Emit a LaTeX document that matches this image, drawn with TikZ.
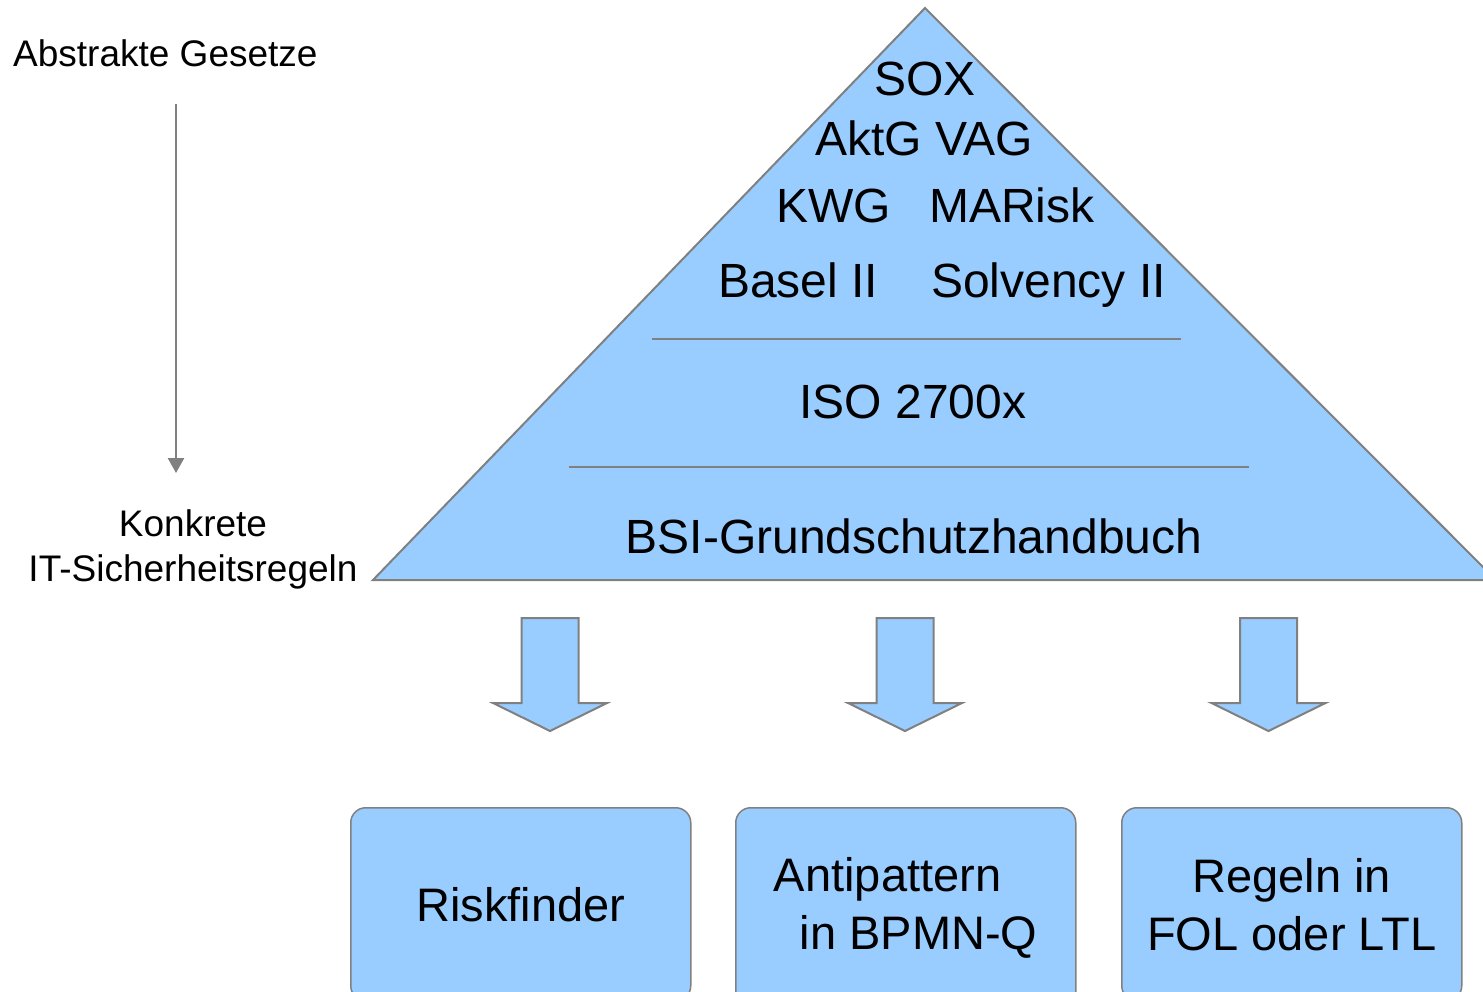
\documentclass[tikz,border=0pt]{standalone}
\usepackage{fontspec}
\setmainfont{Liberation Sans}
\usetikzlibrary{arrows.meta}
\definecolor{boxblue}{HTML}{99CCFF}
\definecolor{edgegray}{HTML}{808080}
\begin{document}
\begin{tikzpicture}[x=1pt,y=-1pt,
  big/.style={inner sep=0pt, font=\fontsize{48}{56}\selectfont},
  mid/.style={inner sep=0pt, font=\fontsize{37}{45}\selectfont},
  box/.style={draw=edgegray, line width=1.5pt, fill=boxblue, rounded corners=15pt,
    inner sep=0pt, font=\fontsize{47}{58}\selectfont, anchor=north west,
    minimum width=340pt, minimum height=193pt},
  arrowbox/.style={draw=edgegray, line width=2pt, fill=boxblue, line join=miter},
  sepline/.style={draw=edgegray, line width=1.5pt},
  thinarrow/.style={draw=edgegray, line width=2.5pt, -{Triangle[width=16pt,length=15pt]}}]
\useasboundingbox (0,0) rectangle (1483,991);
\clip (0,0) rectangle (1483,991);
\fill[white] (0,0) rectangle (1483,991);

% pyramid
\coordinate (apex) at (925,8);
\coordinate (baseL) at (373,580);
\coordinate (baseR) at (1496,580);
\draw[arrowbox] (apex) -- (baseL) -- (baseR) -- cycle;
\coordinate (s1L) at (652,339); \coordinate (s1R) at (1181,339);
\coordinate (s2L) at (569,467); \coordinate (s2R) at (1249,467);
\draw[sepline] (s1L) -- (s1R);
\draw[sepline] (s2L) -- (s2R);

\node[big, anchor=base] (sox) at (925,95) {SOX};
\node[big, anchor=base] (aktg) at (924,155) {AktG VAG};
\node[big, anchor=base west] (kwg) at (776,222) {KWG};
\node[big, anchor=base west] (marisk) at (929,222) {MARisk};
\node[big, anchor=base west] (basel) at (718,297) {Basel II};
\node[big, anchor=base west] (solv) at (931,297) {Solvency II};
\node[big, anchor=base] (iso) at (913,418) {ISO 2700x};
\node[big, anchor=base] (bsi) at (914,553) {BSI-Grundschutzhandbuch};

% left labels and arrow
\node[mid, anchor=base west] (abs) at (13,66) {Abstrakte Gesetze};
\node[mid, align=center, anchor=center] (konk) at (193,549) {Konkrete\\IT-Sicherheitsregeln};
\coordinate (gtop) at (176,104);
\coordinate (gbot) at (176,473);
\draw[thinarrow] (gtop) -- (gbot);

% block arrows
\foreach \cx in {550,905,1268.5}{
  \draw[arrowbox] (\cx-28.5,618) -- (\cx+28.5,618) -- (\cx+28.5,703) -- (\cx+57,703)
    -- (\cx,731) -- (\cx-57,703) -- (\cx-28.5,703) -- cycle;
}

% boxes
\node[box] (riskf) at (350,807) {Riskfinder};
\node[box, align=left, minimum height=201pt] (anti) at (735,807) {Antipattern\\\hspace*{26pt}in BPMN-Q};
\node[box, align=center] (regeln) at (1121,807) {Regeln in\\FOL oder LTL};
\end{tikzpicture}
\end{document}
